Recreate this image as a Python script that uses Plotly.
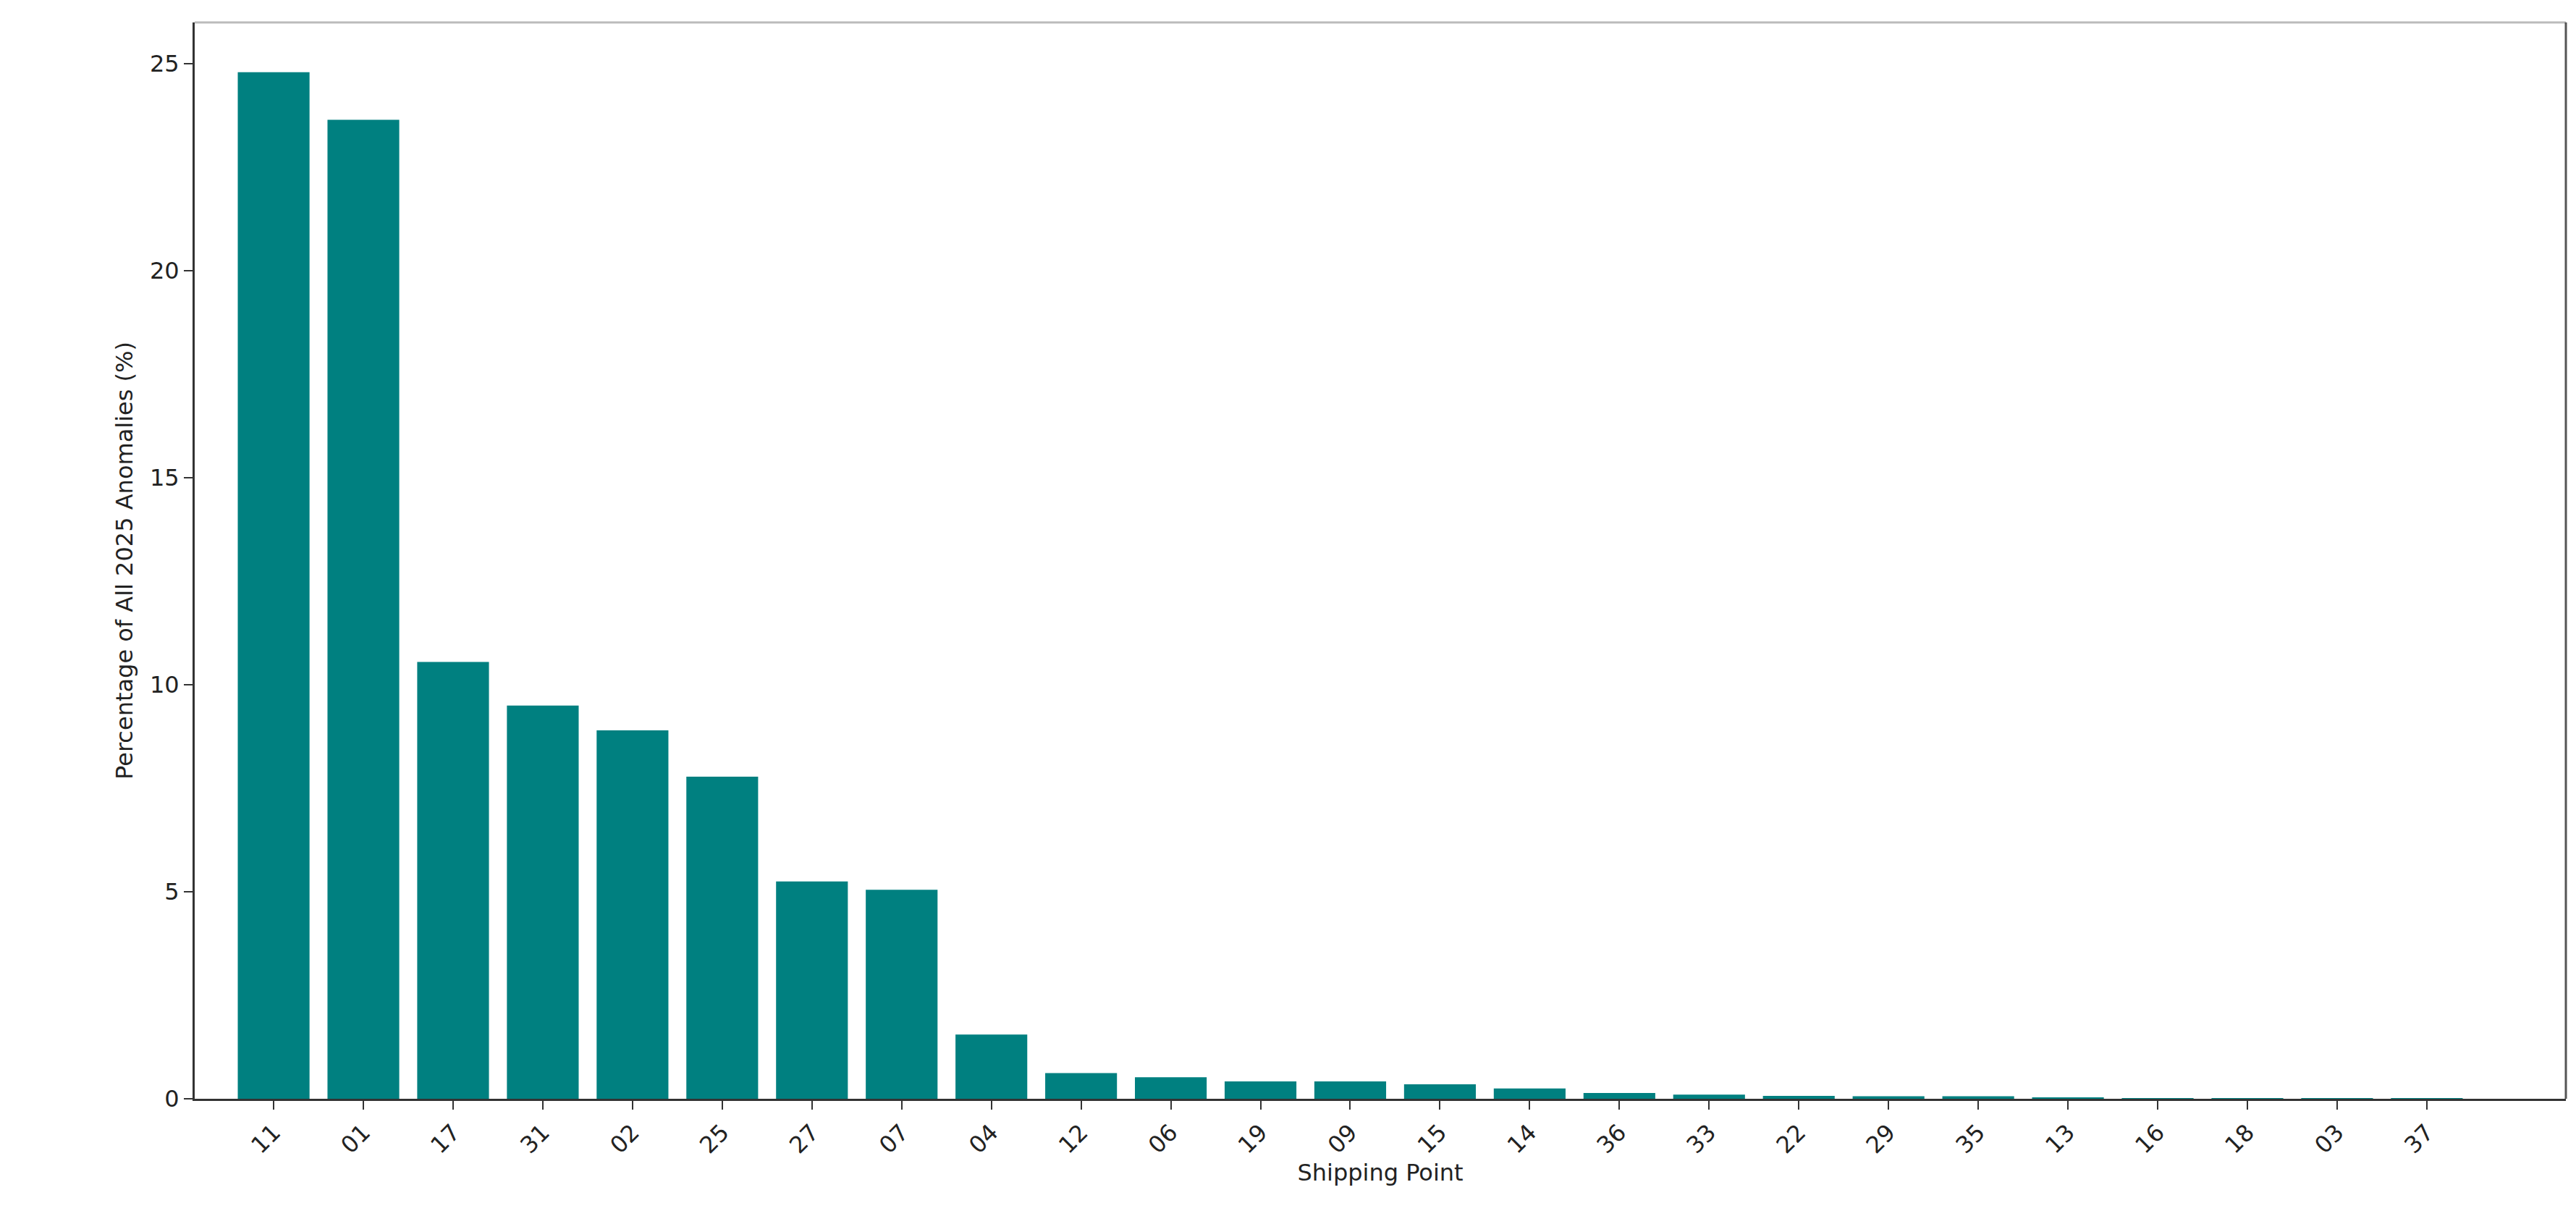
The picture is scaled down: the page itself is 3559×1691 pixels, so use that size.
import plotly.graph_objects as go

points = ["11","01","17","31","02","25","27","07","04","12","06","19","09","15","14","36","33","22","29","35","13","16","18","03","37"]
values = [24.8,23.65,10.55,9.5,8.9,7.78,5.25,5.05,1.55,0.62,0.52,0.42,0.42,0.35,0.25,0.14,0.1,0.07,0.06,0.06,0.02,0.01,0.01,0.005,0.003]

fig = go.Figure(go.Bar(x=list(range(len(points))), y=values, marker_color="#008080",
                       marker_line_width=0, width=0.8))
font = dict(family="DejaVu Sans", size=32, color="#222")
fig.update_layout(
    width=3559, height=1691, plot_bgcolor="white", paper_bgcolor="white",
    margin=dict(l=261, r=22, t=23, b=181), showlegend=False, font=font,
    bargap=0.2,
)
fig.update_xaxes(range=[-0.88, 25.55], tickmode="array", tickvals=list(range(len(points))),
                 ticktext=points, tickangle=-45, ticks="outside", ticklen=12, tickwidth=2,
                 tickcolor="#333", showline=True, linecolor="#333", linewidth=3,
                 mirror=False, showgrid=False, zeroline=False,
                 title=dict(text="Shipping Point", font=font, standoff=8))
fig.update_yaxes(range=[0, 26.0], tickvals=[0,5,10,15,20,25], ticks="outside", ticklen=12,
                 tickwidth=2, tickcolor="#333", showline=True, linecolor="#333", linewidth=3,
                 showgrid=False, zeroline=False,
                 title=dict(text="Percentage of All 2025 Anomalies (%)", font=font, standoff=14))
fig.add_shape(type="line", xref="paper", yref="paper", x0=0, x1=1, y0=1, y1=1,
              line=dict(color="#bbb", width=3))
fig.add_shape(type="line", xref="paper", yref="paper", x0=1, x1=1, y0=0, y1=1,
              line=dict(color="#555", width=3))
fig.write_html("out.html")
